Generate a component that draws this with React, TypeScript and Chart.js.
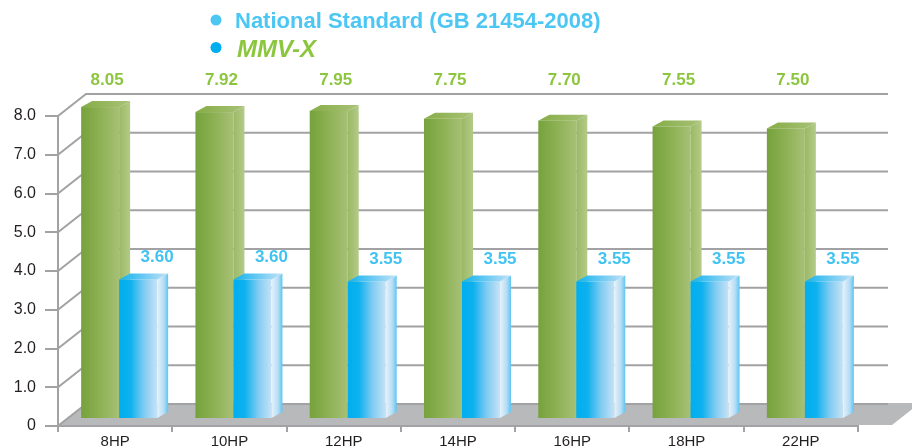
import React, { useEffect, useRef } from 'react';
import { Chart, registerables } from 'chart.js';

Chart.register(...registerables);

const categories = ['8HP', '10HP', '12HP', '14HP', '16HP', '18HP', '22HP'];
const mmvxValues = [8.05, 7.92, 7.95, 7.75, 7.7, 7.55, 7.5];
const standardValues = [3.6, 3.6, 3.55, 3.55, 3.55, 3.55, 3.55];
const standardName = 'National Standard (GB 21454-2008)';
const mmvxName = 'MMV-X';
const yTicks = [0, 1, 2, 3, 4, 5, 6, 7, 8];

const FONT = '"Liberation Sans", Arial, Helvetica, sans-serif';
const SHIFT_X = 4;
const SHIFT_Y = -7;
const DEPTH_X = 11;
const DEPTH_Y = -6;
const WALL_X = 28;
const WALL_Y = -22;
const GRID = '#A2A2A4';

type Stops = [number, string][];
interface Palette { front: Stops; side: Stops; top: Stops; label: string; ldx: number; ldy: number; fixedRow: boolean; }

const palettes: Palette[] = [
  {
    front: [[0, '#76A23C'], [0.5, '#8DB154'], [1, '#A7C076']],
    side: [[0, '#9AB964'], [1, '#B4CB89']],
    top: [[0, '#86AC47'], [1, '#A8C277']],
    label: '#8CC63F', ldx: 7, ldy: -16, fixedRow: true,
  },
  {
    front: [[0, '#00AEEF'], [0.3, '#0EB1EE'], [0.65, '#7FCBF2'], [1, '#C6E2F6']],
    side: [[0, '#E6F2FB'], [0.6, '#B6DDF5'], [1, '#5CC6F2']],
    top: [[0, '#10B2EF'], [1, '#C2E1F6']],
    label: '#41C3F2', ldx: 19, ldy: -22, fixedRow: false,
  },
];

function grad(ctx: CanvasRenderingContext2D, x0: number, x1: number, stops: Stops) {
  const g = ctx.createLinearGradient(x0, 0, x1, 0);
  stops.forEach(([o, c]) => g.addColorStop(o, c));
  return g;
}

function drawBar(ctx: CanvasRenderingContext2D, left: number, right: number, top: number, bottom: number, pal: Palette) {
  ctx.fillStyle = grad(ctx, left, right, pal.front);
  ctx.fillRect(left, top, right - left, bottom - top);
  ctx.fillStyle = grad(ctx, right, right + DEPTH_X, pal.side);
  ctx.beginPath();
  ctx.moveTo(right, top);
  ctx.lineTo(right + DEPTH_X, top + DEPTH_Y);
  ctx.lineTo(right + DEPTH_X, bottom + DEPTH_Y);
  ctx.lineTo(right, bottom);
  ctx.closePath();
  ctx.fill();
  ctx.fillStyle = grad(ctx, left, right + DEPTH_X, pal.top);
  ctx.beginPath();
  ctx.moveTo(left, top);
  ctx.lineTo(left + DEPTH_X, top + DEPTH_Y);
  ctx.lineTo(right + DEPTH_X, top + DEPTH_Y);
  ctx.lineTo(right, top);
  ctx.closePath();
  ctx.fill();
}

const scenePlugin = {
  id: 'scene3d',
  beforeDatasetsDraw(chart: any) {
    const { ctx, chartArea: ca } = chart;
    const y = chart.scales.y;
    const y0 = y.getPixelForValue(0);
    ctx.save();
    ctx.fillStyle = '#B8B9BB';
    ctx.beginPath();
    ctx.moveTo(ca.left, y0 - 1);
    ctx.lineTo(ca.right + 34, y0 - 1);
    ctx.lineTo(ca.right + 34 + WALL_X, y0 - 1 + WALL_Y);
    ctx.lineTo(ca.left + WALL_X, y0 - 1 + WALL_Y);
    ctx.closePath();
    ctx.fill();
    ctx.strokeStyle = GRID;
    ctx.lineWidth = 2;
    for (const v of yTicks) {
      const py = y.getPixelForValue(v);
      ctx.beginPath();
      ctx.moveTo(ca.left, py);
      ctx.lineTo(ca.left + WALL_X, py + WALL_Y);
      ctx.lineTo(ca.right + 30, py + WALL_Y);
      ctx.stroke();
    }
    ctx.restore();
  },
  afterDatasetsDraw(chart: any) {
    const { ctx, chartArea: ca } = chart;
    ctx.save();
    const metas = [chart.getDatasetMeta(0), chart.getDatasetMeta(1)];
    const n = metas[0].data.length;
    for (let i = 0; i < n; i++) {
      metas.forEach((meta: any, di: number) => {
        const b = meta.data[i].getProps(['x', 'y', 'base', 'width'], true);
        const left = b.x - b.width / 2 + SHIFT_X;
        const right = b.x + b.width / 2 + SHIFT_X;
        drawBar(ctx, left, right, b.y + SHIFT_Y, b.base + SHIFT_Y, palettes[di]);
      });
    }
    ctx.font = `bold 17px ${FONT}`;
    ctx.textAlign = 'center';
    ctx.textBaseline = 'middle';
    metas.forEach((meta: any, di: number) => {
      const values = chart.data.datasets[di].data as number[];
      meta.data.forEach((el: any, i: number) => {
        const b = el.getProps(['x', 'y'], true);
        const pal = palettes[di];
        ctx.fillStyle = pal.label;
        const ly = pal.fixedRow ? ca.top + WALL_Y - 14 : b.y + SHIFT_Y + pal.ldy;
        ctx.fillText(values[i].toFixed(2), b.x + SHIFT_X + pal.ldx, ly);
      });
    });
    ctx.restore();
  },
  afterDraw(chart: any) {
    const { ctx } = chart;
    ctx.save();
    ctx.textAlign = 'left';
    ctx.textBaseline = 'alphabetic';
    ctx.fillStyle = '#4CC6F3';
    ctx.beginPath();
    ctx.arc(216, 20, 5.5, 0, Math.PI * 2);
    ctx.fill();
    ctx.font = `bold 22px ${FONT}`;
    ctx.fillText(chart.data.datasets[1].label, 235, 28);
    ctx.fillStyle = '#00AEEF';
    ctx.beginPath();
    ctx.arc(216, 47.5, 5.5, 0, Math.PI * 2);
    ctx.fill();
    ctx.fillStyle = '#8CC63F';
    ctx.font = `italic bold 24px ${FONT}`;
    ctx.fillText(chart.data.datasets[0].label, 237, 57);
    ctx.restore();
  },
};

export default function App() {
  const ref = useRef<HTMLCanvasElement | null>(null);
  useEffect(() => {
    document.body.style.margin = '0';
    const canvas = ref.current;
    if (!canvas) return;
    const chart = new Chart(canvas, {
      type: 'bar',
      data: {
        labels: categories,
        datasets: [
          { label: mmvxName, data: mmvxValues, backgroundColor: 'rgba(0,0,0,0)', borderWidth: 0 },
          { label: standardName, data: standardValues, backgroundColor: 'rgba(0,0,0,0)', borderWidth: 0 },
        ],
      },
      options: {
        animation: false,
        responsive: false,
        devicePixelRatio: 1,
        layout: { padding: { top: 116, right: 54, bottom: 0, left: 0 } },
        datasets: { bar: { categoryPercentage: 0.665, barPercentage: 1 } },
        plugins: { legend: { display: false }, tooltip: { enabled: false } },
        scales: {
          x: {
            grid: { display: true, drawOnChartArea: false, offset: true, tickLength: 6, color: GRID, lineWidth: 2 },
            border: { display: true, color: GRID, width: 2 },
            ticks: { padding: 1, color: '#231F20', font: { family: FONT, size: 15 } },
            afterFit: (s: any) => { s.height = 22; },
          },
          y: {
            min: 0,
            max: 8,
            ticks: {
              stepSize: 1,
              padding: 9,
              color: '#231F20',
              font: { family: FONT, size: 16 },
              callback: (v: any) => (Number(v) === 0 ? '0' : Number(v).toFixed(1)),
            },
            grid: { display: true, drawOnChartArea: false, tickLength: 13, color: GRID, lineWidth: 2 },
            border: { display: true, color: GRID, width: 2 },
            afterFit: (s: any) => { s.width = 58; },
          },
        },
      } as any,
      plugins: [scenePlugin],
    });
    return () => chart.destroy();
  }, []);
  return (
    <div style={{ width: 912, height: 448, position: 'relative', background: '#fff' }}>
      <canvas ref={ref} width={912} height={448} style={{ width: 912, height: 448, display: 'block' }} />
    </div>
  );
}
